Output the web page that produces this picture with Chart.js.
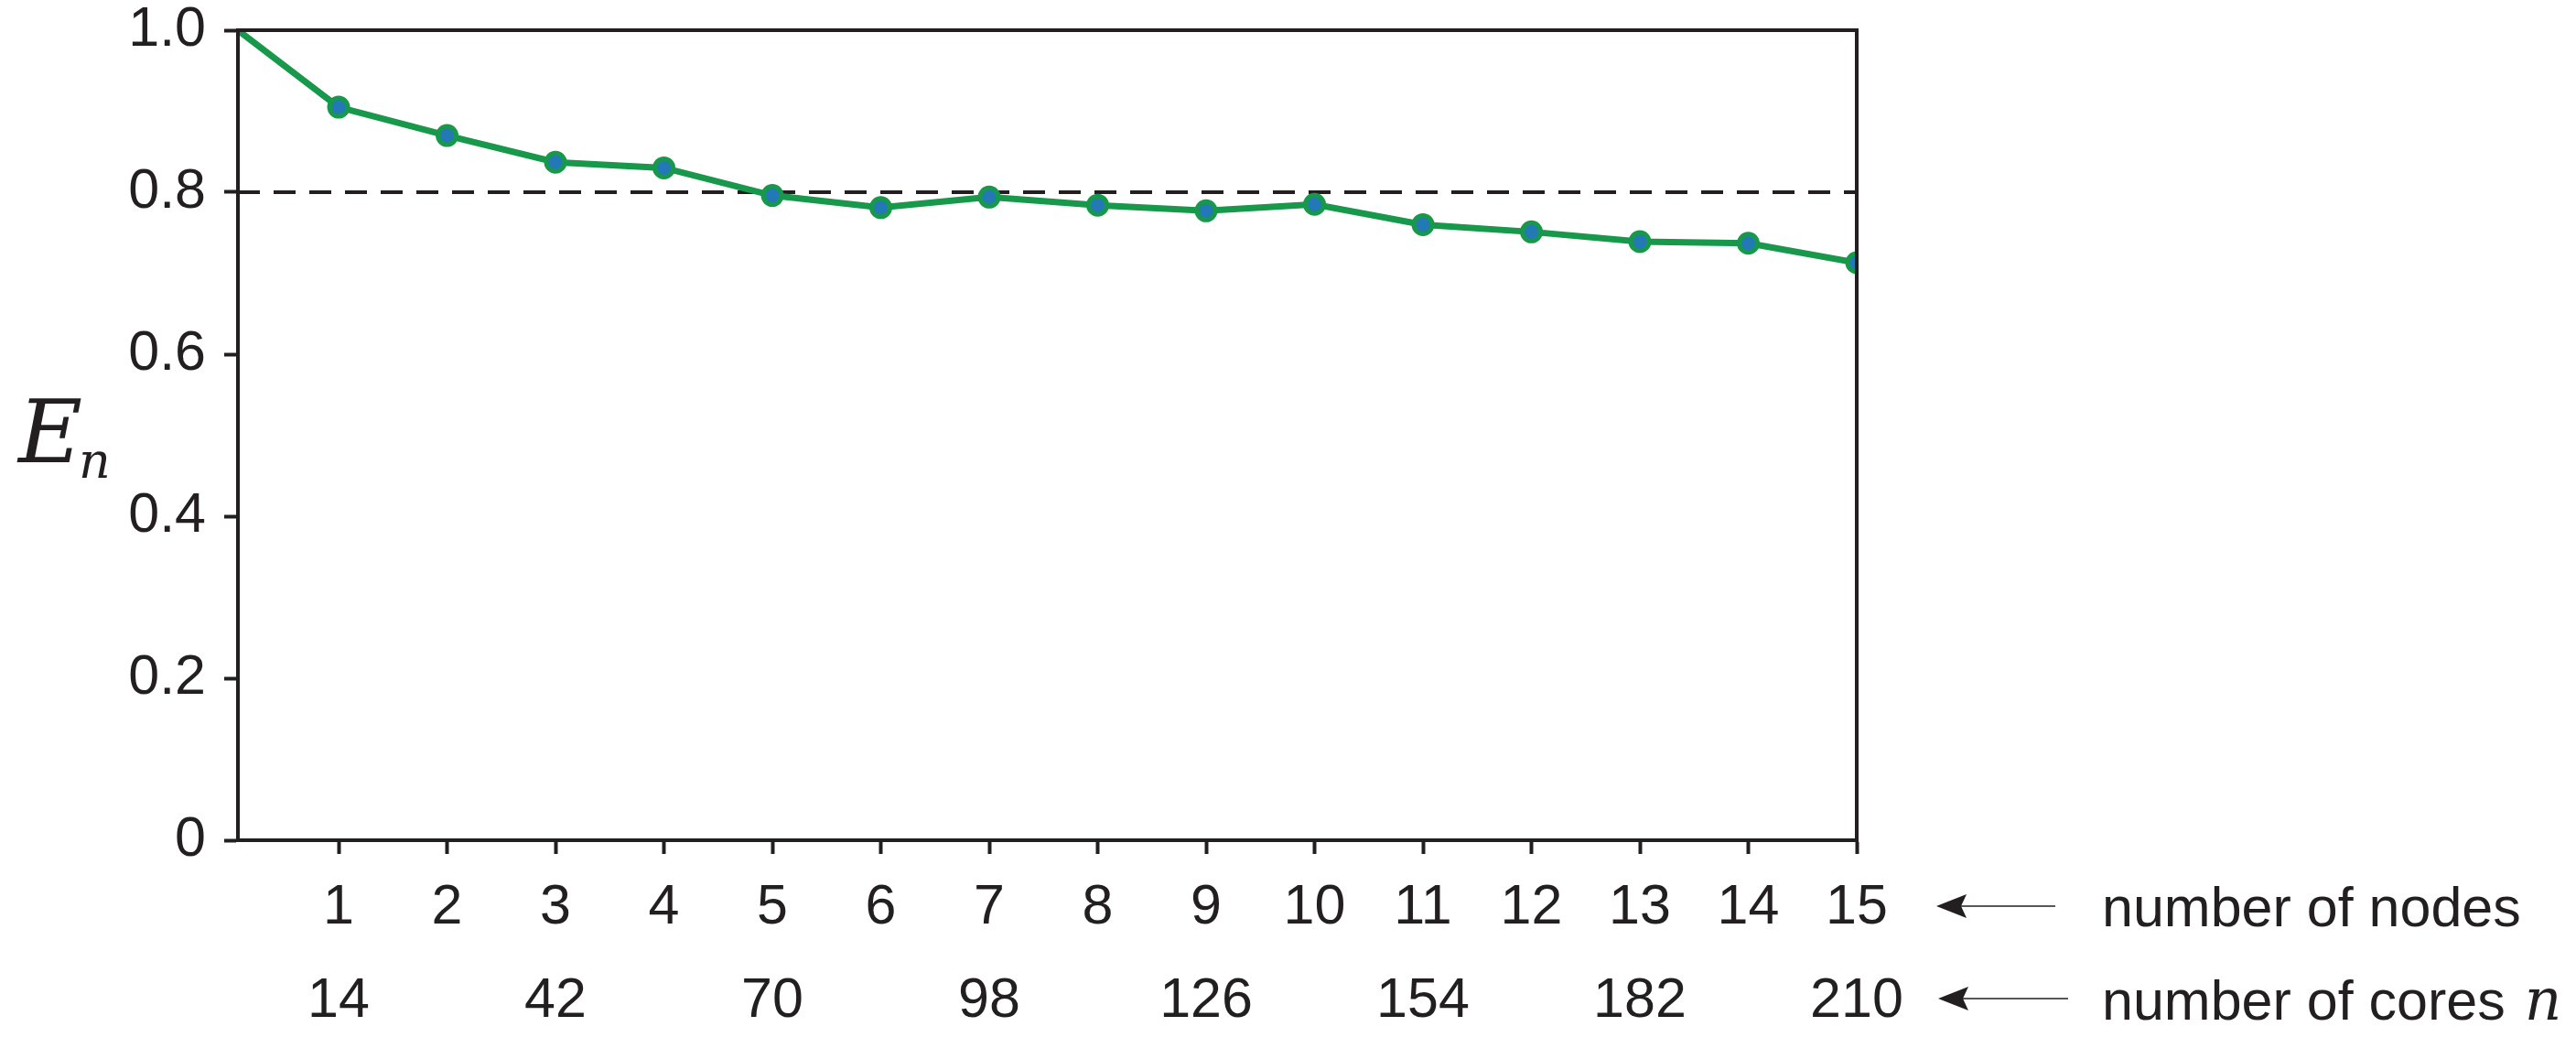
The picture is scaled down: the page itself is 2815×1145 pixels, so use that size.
<!DOCTYPE html>
<html>
<head>
<meta charset="utf-8">
<script src="https://cdn.jsdelivr.net/npm/chart.js@4.4.1/dist/chart.umd.min.js"></script>
<style>
  html, body { margin: 0; padding: 0; background: #ffffff; }
  #wrap { width: 2815px; height: 1145px; }
</style>
</head>
<body>
<div id="wrap"><canvas id="effChart" width="2815" height="1145"></canvas></div>
<script>
// number of cores for each measured point (1 core = reference run)
const cores = [1, 14, 28, 42, 56, 70, 84, 98, 112, 126, 140, 154, 168, 182, 196, 210];
// parallel efficiency E_n
const efficiency = [1.0, 0.905, 0.870, 0.837, 0.830, 0.796, 0.781, 0.794, 0.784, 0.777, 0.785, 0.760, 0.751, 0.739, 0.737, 0.713];
// x tick labels: nodes (first row), cores (second row)
const nodeLabels = ['1', '2', '3', '4', '5', '6', '7', '8', '9', '10', '11', '12', '13', '14', '15'];
const coreLabels = ['14', '', '42', '', '70', '', '98', '', '126', '', '154', '', '182', '', '210'];
const coreTicks = [14, 28, 42, 56, 70, 84, 98, 112, 126, 140, 154, 168, 182, 196, 210];
// y ticks
const yTicks = [0, 0.2, 0.4, 0.6, 0.8, 1.0];
const refLevel = 0.8;

const INK = '#231f20';
const GREEN = '#17984a';
const BLUE = '#2379b6';
const SANS = '"Liberation Sans", Arial, sans-serif';
const SERIF = '"DejaVu Serif", serif';

/**
 * Box around the plot area, drawn over the data like matplotlib spines
 */
const frameBox = {
    id: 'frameBox',
    afterDatasetsDraw(chart) {
        const { ctx, chartArea: a } = chart;
        ctx.save();
        ctx.strokeStyle = INK;
        ctx.lineWidth = 4;
        ctx.strokeRect(a.left, a.top, a.right - a.left, a.bottom - a.top);
        ctx.restore();
    }
};

/**
 * Axis title E_n and the arrow notes on the right
 */
const notes = {
    id: 'notes',
    afterDraw(chart) {
        const { ctx } = chart;
        ctx.save();
        ctx.fillStyle = INK;
        ctx.strokeStyle = INK;

        // E_n
        ctx.textBaseline = 'alphabetic';
        ctx.textAlign = 'left';
        ctx.font = 'italic 96px ' + SERIF;
        ctx.fillText('E', 20, 505);
        const ew = ctx.measureText('E').width;
        ctx.font = 'italic 54px ' + SERIF;
        ctx.fillText('n', 20 + ew - 4, 522);

        // arrows
        function arrow(x0, x1, y) {
            ctx.lineWidth = 1.6;
            ctx.beginPath();
            ctx.moveTo(x0 + 20, y);
            ctx.lineTo(x1, y);
            ctx.stroke();
            ctx.beginPath();
            ctx.moveTo(x0, y);
            ctx.lineTo(x0 + 33, y - 13);
            ctx.lineTo(x0 + 27, y);
            ctx.lineTo(x0 + 33, y + 13);
            ctx.closePath();
            ctx.fill();
        }
        arrow(2116, 2246, 990);
        arrow(2118, 2260, 1091);

        ctx.font = '61px ' + SANS;
        ctx.fillText('number of nodes', 2297, 1012);
        ctx.fillText('number of cores', 2297, 1114);
        const cw = ctx.measureText('number of cores ').width;
        ctx.font = 'italic 63px ' + SERIF;
        ctx.fillText('n', 2297 + cw + 4, 1114);
        ctx.restore();
    }
};

document.addEventListener('DOMContentLoaded', function () {
    const ctx = document.getElementById('effChart');

    new Chart(ctx, {
        type: 'line',
        data: {
            labels: cores,
            datasets: [
                {
                    label: 'E_n',
                    data: cores.map((c, i) => ({ x: c, y: efficiency[i] })),
                    borderColor: GREEN,
                    borderWidth: 7,
                    backgroundColor: BLUE,
                    pointBackgroundColor: BLUE,
                    pointBorderColor: GREEN,
                    pointBorderWidth: 5,
                    pointRadius: efficiency.map((v, i) => i === 0 ? 0 : 10),
                    tension: 0,
                    clip: 0,
                    order: 0
                },
                {
                    label: 'reference',
                    data: [{ x: cores[0], y: refLevel }, { x: cores[cores.length - 1], y: refLevel }],
                    borderColor: INK,
                    borderWidth: 4,
                    borderDash: [24, 15],
                    pointRadius: 0,
                    clip: 0,
                    order: 1
                }
            ]
        },
        options: {
            responsive: false,
            animation: false,
            events: [],
            layout: {
                padding: { left: 0, right: 786, top: 33, bottom: 0 }
            },
            plugins: {
                legend: { display: false },
                tooltip: { enabled: false }
            },
            scales: {
                x: {
                    type: 'linear',
                    min: cores[0],
                    max: cores[cores.length - 1],
                    afterBuildTicks: function (scale) {
                        scale.ticks = coreTicks.map(v => ({ value: v }));
                    },
                    afterFit: function (scale) {
                        scale.height = 227;
                    },
                    ticks: {
                        autoSkip: false,
                        maxRotation: 0,
                        padding: 8,
                        color: INK,
                        font: { family: SANS, size: 61, lineHeight: 1.67 },
                        callback: function (value) {
                            const i = coreTicks.indexOf(value);
                            return [nodeLabels[i], coreLabels[i]];
                        }
                    },
                    grid: {
                        drawOnChartArea: false,
                        tickLength: 15,
                        tickWidth: 4,
                        tickColor: INK
                    },
                    border: { display: true, color: INK, width: 4 }
                },
                y: {
                    min: 0,
                    max: 1,
                    afterBuildTicks: function (scale) {
                        scale.ticks = yTicks.map(v => ({ value: v }));
                    },
                    afterFit: function (scale) {
                        scale.width = 260;
                    },
                    ticks: {
                        padding: 20,
                        color: INK,
                        // small line height keeps the top label from pushing the plot area down
                        font: { family: SANS, size: 61, lineHeight: 0.4 },
                        callback: function (value) {
                            return value === 0 ? '0' : value.toFixed(1);
                        }
                    },
                    grid: {
                        drawOnChartArea: false,
                        tickLength: 15,
                        tickWidth: 4,
                        tickColor: INK
                    },
                    border: { display: true, color: INK, width: 4 }
                }
            }
        },
        plugins: [frameBox, notes]
    });
});
</script>
</body>
</html>
